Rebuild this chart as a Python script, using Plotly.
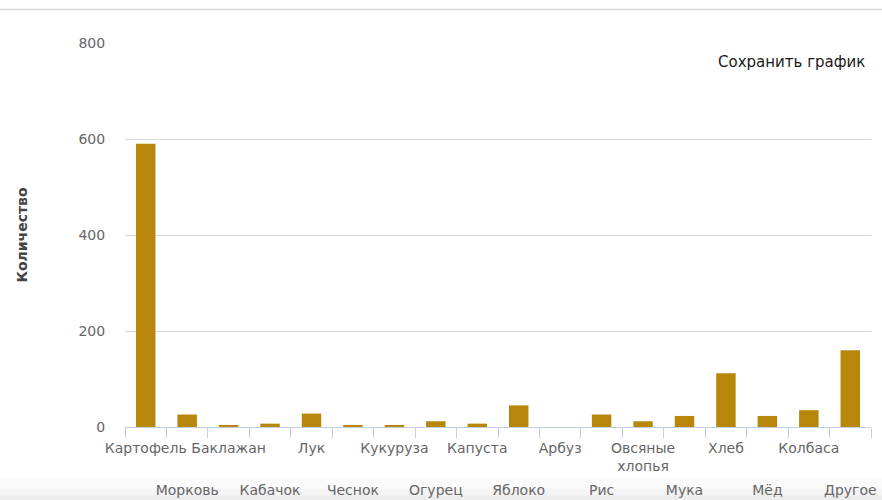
import plotly.graph_objects as go

categories = ["Картофель", "Морковь", "Баклажан", "Кабачок", "Лук", "Чеснок",
              "Кукуруза", "Огурец", "Капуста", "Яблоко", "Арбуз", "Рис",
              "Овсяные хлопья", "Мука", "Хлеб", "Мёд", "Колбаса", "Другое"]
tick_labels = ["Картофель", "Морковь", "Баклажан", "Кабачок", "Лук", "Чеснок",
               "Кукуруза", "Огурец", "Капуста", "Яблоко", "Арбуз", "Рис",
               "Овсяные<br>хлопья", "Мука", "Хлеб", "Мёд", "Колбаса", "Другое"]
values = [590, 26, 4, 7, 28, 4, 4, 12, 7, 45, 0, 26, 12, 23, 112, 23, 35, 160]
y_ticks = [0, 200, 400, 600, 800]

FONT = "DejaVu Sans"
AXIS_COLOR = "#C0D0E0"

row1 = [t if i % 2 == 0 else "" for i, t in enumerate(tick_labels)]
row2 = [t if i % 2 == 1 else "" for i, t in enumerate(tick_labels)]
x_range = [-0.5, len(categories) - 0.5]

fig = go.Figure()
fig.add_trace(go.Bar(
    x=categories, y=values,
    marker=dict(color="#B8860B", line=dict(width=0)),
    hoverinfo="x+y", showlegend=False,
))
fig.add_trace(go.Scatter(
    x=categories, y=values, xaxis="x2", mode="markers",
    marker=dict(opacity=0), hoverinfo="skip", showlegend=False,
))

fig.update_layout(
    width=882, height=500,
    margin=dict(l=125, r=11, t=43, b=73),
    paper_bgcolor="white", plot_bgcolor="white",
    font=dict(family=FONT, size=14, color="#666666"),
    bargap=0.53,
    xaxis=dict(
        type="category", categoryorder="array", categoryarray=categories,
        range=x_range,
        tickmode="array", tickvals=categories, ticktext=row1, tickangle=0,
        tickson="boundaries", ticks="outside", ticklen=10, tickwidth=1,
        tickcolor=AXIS_COLOR, showline=True, linecolor=AXIS_COLOR, linewidth=1,
        showgrid=False, ticklabelstandoff=8,
        tickfont=dict(family=FONT, size=14, color="#666666"),
        automargin=False, fixedrange=True,
    ),
    xaxis2=dict(
        type="category", categoryorder="array", categoryarray=categories,
        overlaying="x", matches="x", side="bottom", anchor="y",
        tickmode="array", tickvals=categories, ticktext=row2, tickangle=0,
        ticks="", showline=False, showgrid=False, ticklabelstandoff=53,
        tickfont=dict(family=FONT, size=14, color="#666666"),
        automargin=False,
    ),
    yaxis=dict(
        range=[0, 800], tickvals=y_ticks, showgrid=True, gridcolor="#D8D8D8",
        gridwidth=1, zeroline=False, showline=False,
        ticks="outside", ticklen=16, tickcolor="rgba(0,0,0,0)",
        tickfont=dict(family=FONT, size=14, color="#666666"),
        title=dict(text="<b>Количество</b>", standoff=47,
                   font=dict(family=FONT, size=14, color="#444444")),
        automargin=False, fixedrange=True,
    ),
    annotations=[dict(
        text="Сохранить график", xref="paper", yref="paper",
        x=0.994, y=0.9505, xanchor="right", yanchor="middle", showarrow=False,
        font=dict(family=FONT, size=15, color="#1A1A1A"),
    )],
    shapes=[
        dict(type="line", xref="paper", yref="paper", x0=-0.17, x1=1.02,
             y0=1.087, y1=1.087, line=dict(color="#DCDCE0", width=1.5)),
        dict(type="rect", xref="paper", yref="paper", x0=-0.17, x1=1.02,
             y0=-0.132, y1=-0.16, fillcolor="#FBFBFB", line=dict(width=0), layer="below"),
        dict(type="rect", xref="paper", yref="paper", x0=-0.17, x1=1.02,
             y0=-0.16, y1=-0.178, fillcolor="#F4F4F4", line=dict(width=0), layer="below"),
        dict(type="rect", xref="paper", yref="paper", x0=-0.17, x1=1.02,
             y0=-0.178, y1=-0.2, fillcolor="#ECECEC", line=dict(width=0), layer="below"),
    ],
)

fig.write_html(
    "out.html",
    config={"displayModeBar": False},
    post_script="document.body.style.margin='0';document.body.style.overflow='hidden';",
)
